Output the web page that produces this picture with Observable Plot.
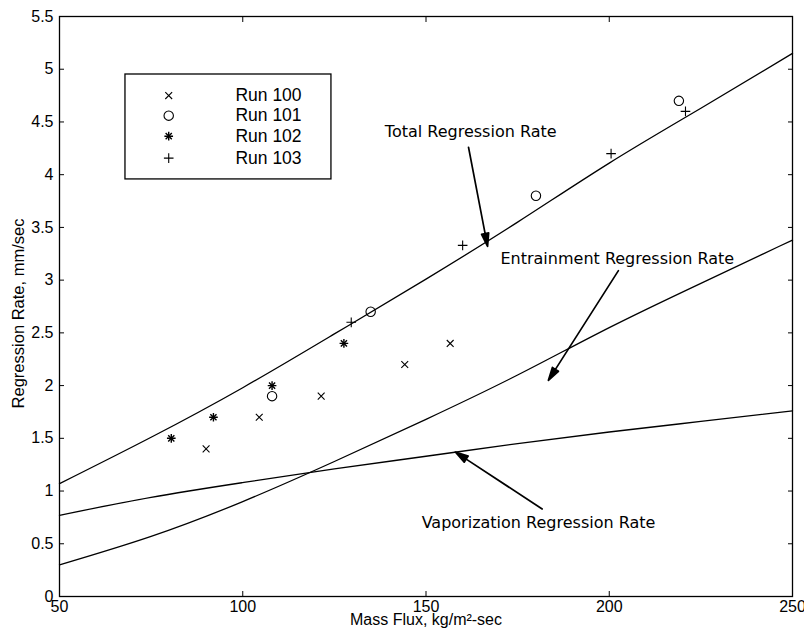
<!DOCTYPE html>
<html>
<head>
<meta charset="utf-8">
<script src="https://cdn.jsdelivr.net/npm/d3@7"></script>
<script src="https://cdn.jsdelivr.net/npm/@observablehq/plot@0.6"></script>
<style>
  body { margin: 0; background: #fff; }
  #chart svg { display: block; }
</style>
</head>
<body>
<div id="chart"></div>
<script>
// Model curves: regression rate (mm/sec) against mass flux (kg/m^2-sec)
const massFlux         = [50, 75, 100, 125, 150, 175, 200, 225, 250];
const totalRate        = [1.07, 1.51, 1.98, 2.49, 3.01, 3.55, 4.11, 4.63, 5.15];
const entrainmentRate  = [0.30, 0.57, 0.90, 1.28, 1.68, 2.10, 2.55, 2.97, 3.38];
const vaporizationRate = [0.77, 0.94, 1.08, 1.21, 1.33, 1.45, 1.56, 1.66, 1.76];

// Measured points for each run
const run100Flux = [90, 104.5, 121.4, 144.2, 156.6];
const run100Rate = [1.4, 1.7, 1.9, 2.2, 2.4];
const run101Flux = [108, 134.9, 180, 219];
const run101Rate = [1.9, 2.7, 3.8, 4.7];
const run102Flux = [80.5, 92, 108, 127.6];
const run102Rate = [1.5, 1.7, 2.0, 2.4];
const run103Flux = [129.6, 160, 200.5, 220.8];
const run103Rate = [2.6, 3.33, 4.2, 4.6];

const runNames   = ["Run 100", "Run 101", "Run 102", "Run 103"];
const runMarkers = ["times", "circle", "star", "plus"];

// Axis ticks
const xTicks = [50, 100, 150, 200, 250];
const yTicks = [0, 0.5, 1, 1.5, 2, 2.5, 3, 3.5, 4, 4.5, 5, 5.5];

// Curve annotations: label position and arrow (in data units)
const noteLabels = ["Total Regression Rate", "Entrainment Regression Rate", "Vaporization Regression Rate"];
const noteTextX  = [162.2, 202.2, 180.7];
const noteTextY  = [4.41, 3.2, 0.70];
const arrowFromX = [161.6, 202.5, 181.7];
const arrowFromY = [4.26, 3.09, 0.83];
const arrowToX   = [166.8, 183.4, 158.0];
const arrowToY   = [3.32, 2.05, 1.37];

// Legend box (data units)
const legendBox  = {x1: 68.0, x2: 124.2, y1: 3.955, y2: 4.95};
const legendSymX = 79.8;
const legendTxtX = 98.0;
const legendRowY = [4.75, 4.56, 4.365, 4.157];

const tickFont = "Liberation Sans, Arial, sans-serif";
const noteFont = "DejaVu Sans, Verdana, sans-serif";

const curve = (ys) => massFlux.map((x, i) => ({x, y: ys[i]}));
const pts = (xs, ys) => xs.map((x, i) => ({x, y: ys[i]}));
const runs = [
  pts(run100Flux, run100Rate),
  pts(run101Flux, run101Rate),
  pts(run102Flux, run102Rate),
  pts(run103Flux, run103Rate)
];
const notes = noteLabels.map((t, i) => ({
  t, tx: noteTextX[i], ty: noteTextY[i],
  x1: arrowFromX[i], y1: arrowFromY[i], x2: arrowToX[i], y2: arrowToY[i]
}));
const legendRows = runNames.map((name, i) => ({
  name, marker: runMarkers[i], x: legendSymX, tx: legendTxtX, y: legendRowY[i]
}));

// Marker styles; "star" is an eight-armed asterisk (plus and times overlaid)
const markerStyle = {
  times:  [{symbol: "times", r: 3.2}],
  circle: [{symbol: "circle", r: 4.7}],
  plus:   [{symbol: "plus", r: 3.2}],
  star:   [{symbol: "plus", r: 2.9}, {symbol: "times", r: 2.9}]
};
function markerMarks(data, marker) {
  return markerStyle[marker].map(s => Plot.dot(data, {
    x: "x", y: "y", symbol: () => s.symbol, r: s.r,
    stroke: "black", strokeWidth: marker === "star" ? 1.4 : 1.1, fill: "none"
  }));
}

// Arrow with a narrow filled head, drawn pointing up from its start point
const arrowShape = {
  draw(context, l) {
    const h = 13, w = 3.6;
    context.moveTo(0, 0);
    context.lineTo(0, -l + h);
    context.lineTo(-w, -l + h);
    context.lineTo(0, -l);
    context.lineTo(w, -l + h);
    context.lineTo(0, -l + h);
  }
};

function build(extra) {
  return Plot.plot({
    width: 804,
    height: 637,
    marginLeft: 59,
    marginRight: 12,
    marginTop: 16,
    marginBottom: 41,
    style: {fontFamily: tickFont, fontSize: "16px", color: "black", background: "white"},
    x: {domain: [50, 250]},
    y: {domain: [0, 5.5]},
    marks: [
      Plot.frame({stroke: "black", strokeWidth: 1.3}),
      Plot.axisX({anchor: "bottom", ticks: xTicks, tickSize: -5, tickPadding: 9, label: null, fontSize: 16}),
      Plot.axisX({anchor: "top", ticks: xTicks, tickSize: -5, tickFormat: () => "", label: null}),
      Plot.axisY({anchor: "left", ticks: yTicks, tickSize: -5, tickPadding: 11, label: null, fontSize: 16, tickFormat: d => String(d)}),
      Plot.axisY({anchor: "right", ticks: yTicks, tickSize: -5, tickFormat: () => "", label: null}),

      Plot.text(["Mass Flux, kg/m²-sec"], {frameAnchor: "bottom", dy: 28, text: d => d, fontSize: 16}),
      Plot.text(["Regression Rate, mm/sec"], {frameAnchor: "left", textAnchor: "middle", dx: -41, dy: 7, rotate: -90, text: d => d, fontSize: 16.5}),

      Plot.line(curve(totalRate), {x: "x", y: "y", curve: "natural", stroke: "black", strokeWidth: 1.3}),
      Plot.line(curve(entrainmentRate), {x: "x", y: "y", curve: "natural", stroke: "black", strokeWidth: 1.3}),
      Plot.line(curve(vaporizationRate), {x: "x", y: "y", curve: "natural", stroke: "black", strokeWidth: 1.3}),

      ...runs.flatMap((data, i) => markerMarks(data, runMarkers[i])),

      ...extra,
      Plot.text(notes, {x: "tx", y: "ty", text: "t", fontFamily: noteFont, fontSize: 16}),

      Plot.rect([legendBox], {x1: "x1", x2: "x2", y1: "y1", y2: "y2", fill: "white", stroke: "black", strokeWidth: 1.3}),
      ...legendRows.flatMap(row => markerMarks([row], row.marker)),
      Plot.text(legendRows, {x: "tx", y: "y", text: "name", textAnchor: "start", fontSize: 17.5})
    ]
  });
}

// First pass gives the scales, used to turn each arrow into a pixel length and angle
const base = build([]);
const sx = base.scale("x"), sy = base.scale("y");
const arrowMarks = notes.map(n => {
  const dx = sx.apply(n.x2) - sx.apply(n.x1);
  const dy = sy.apply(n.y2) - sy.apply(n.y1);
  return Plot.vector([n], {
    x: "x1", y: "y1", anchor: "start",
    length: Math.hypot(dx, dy),
    rotate: Math.atan2(dx, -dy) * 180 / Math.PI,
    shape: arrowShape, stroke: "black", fill: "black", strokeWidth: 1.7
  });
});

document.getElementById("chart").append(build(arrowMarks));
</script>
</body>
</html>
